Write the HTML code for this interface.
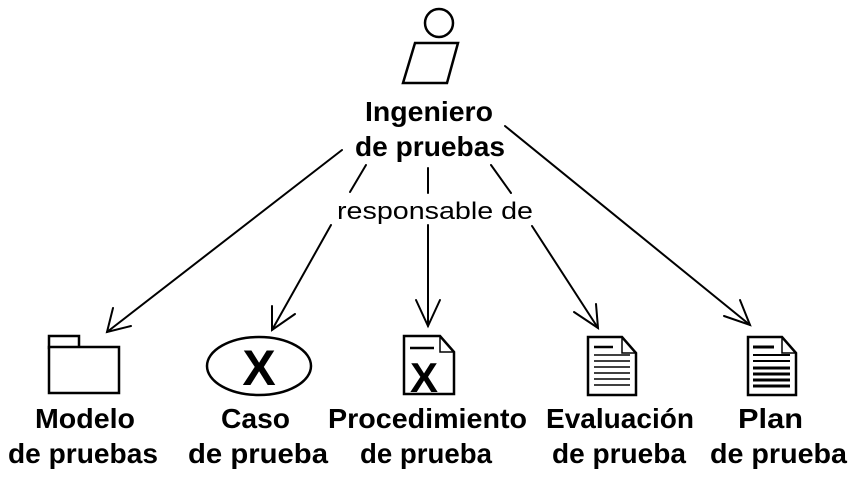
<!DOCTYPE html>
<html><head><meta charset="utf-8"><style>
html,body{margin:0;padding:0;background:#fff;}
svg{display:block;}
text{font-family:"Liberation Sans",sans-serif;fill:#000;}
.b{font-weight:bold;font-size:28px;}
</style></head><body>
<svg width="853" height="480" viewBox="0 0 853 480" xmlns="http://www.w3.org/2000/svg">
<g fill="none" stroke="#000" stroke-width="2.5">
<circle cx="439" cy="23" r="14"/>
<polygon points="415,43 458,43 447,83 403,83"/>
</g>
<text class="b" x="365" y="121" textLength="128" lengthAdjust="spacingAndGlyphs">Ingeniero</text>
<text class="b" x="355" y="156" textLength="150" lengthAdjust="spacingAndGlyphs">de pruebas</text>
<text x="337" y="219" font-size="24" textLength="196" lengthAdjust="spacingAndGlyphs">responsable de</text>
<g stroke="#000" stroke-width="2" fill="none" stroke-linecap="round">
<line x1="342" y1="150" x2="107" y2="332"/>
<polyline points="113,308 107,332 131,326"/>
<line x1="366" y1="165" x2="350" y2="192"/>
<line x1="331" y1="225" x2="272" y2="330"/>
<polyline points="272,306 272,330 295,314"/>
<line x1="428" y1="168" x2="428" y2="193"/>
<line x1="428" y1="225" x2="428" y2="326"/>
<polyline points="416,300 428,326 440,300"/>
<line x1="491" y1="165" x2="511" y2="193"/>
<line x1="532" y1="226" x2="598" y2="328"/>
<polyline points="574,312 598,328 596,304"/>
<line x1="505" y1="126" x2="750" y2="325"/>
<polyline points="724,316 750,325 740,300"/>
</g>
<g fill="#fff" stroke="#000" stroke-width="2.5">
<rect x="49" y="336" width="30" height="12"/>
<rect x="49" y="347" width="70" height="46"/>
</g>
<ellipse cx="259" cy="366" rx="52" ry="29" fill="none" stroke="#000" stroke-width="2.5"/>
<text x="259" y="385" font-size="50" font-weight="bold" text-anchor="middle">X</text>
<g fill="none" stroke="#000" stroke-width="2.5">
<polygon points="404,336 440,336 454,352 454,394 404,394"/>
<polyline points="440,336 440,352 454,352" stroke-width="1.5"/>
<line x1="410" y1="348" x2="434" y2="348" stroke-width="2.5"/>
</g>
<text x="424" y="392" font-size="42" font-weight="bold" text-anchor="middle">X</text>
<g fill="none" stroke="#000" stroke-width="2.5">
<polygon points="588,337 622,337 636,353 636,395 588,395"/>
<polyline points="622,337 622,353 636,353" stroke-width="1.5"/>
</g>
<g stroke="#000" stroke-width="1.6">
<line x1="594" y1="347" x2="613" y2="347" stroke-width="2.5"/>
<line x1="594" y1="355" x2="630" y2="355"/>
<line x1="594" y1="361" x2="630" y2="361"/>
<line x1="594" y1="367" x2="630" y2="367"/>
<line x1="594" y1="373" x2="630" y2="373"/>
<line x1="594" y1="379" x2="630" y2="379"/>
<line x1="594" y1="385" x2="630" y2="385"/>
</g>
<g fill="none" stroke="#000" stroke-width="2.5">
<polygon points="748,337 782,337 796,353 796,395 748,395"/>
<polyline points="782,337 782,353 796,353" stroke-width="1.5"/>
</g>
<g stroke="#000" stroke-width="2">
<line x1="753" y1="347" x2="774" y2="347" stroke-width="3"/>
<line x1="753" y1="355" x2="790" y2="355"/>
<line x1="753" y1="361" x2="790" y2="361"/>
<line x1="753" y1="368" x2="790" y2="368" stroke-width="3"/>
<line x1="753" y1="374" x2="790" y2="374" stroke-width="3"/>
<line x1="753" y1="380" x2="790" y2="380" stroke-width="3"/>
<line x1="753" y1="386" x2="790" y2="386" stroke-width="3"/>
</g>
<text class="b" x="35" y="428" textLength="100" lengthAdjust="spacingAndGlyphs">Modelo</text>
<text class="b" x="8" y="463" textLength="150" lengthAdjust="spacingAndGlyphs">de pruebas</text>
<text class="b" x="221" y="428" textLength="69" lengthAdjust="spacingAndGlyphs">Caso</text>
<text class="b" x="188" y="463" textLength="140" lengthAdjust="spacingAndGlyphs">de prueba</text>
<text class="b" x="328" y="428" textLength="199" lengthAdjust="spacingAndGlyphs">Procedimiento</text>
<text class="b" x="360" y="463" textLength="132" lengthAdjust="spacingAndGlyphs">de prueba</text>
<text class="b" x="546" y="428" textLength="148" lengthAdjust="spacingAndGlyphs">Evaluación</text>
<text class="b" x="552" y="463" textLength="134" lengthAdjust="spacingAndGlyphs">de prueba</text>
<text class="b" x="738" y="428" textLength="65" lengthAdjust="spacingAndGlyphs">Plan</text>
<text class="b" x="710" y="463" textLength="137" lengthAdjust="spacingAndGlyphs">de prueba</text>
</svg>
</body></html>
